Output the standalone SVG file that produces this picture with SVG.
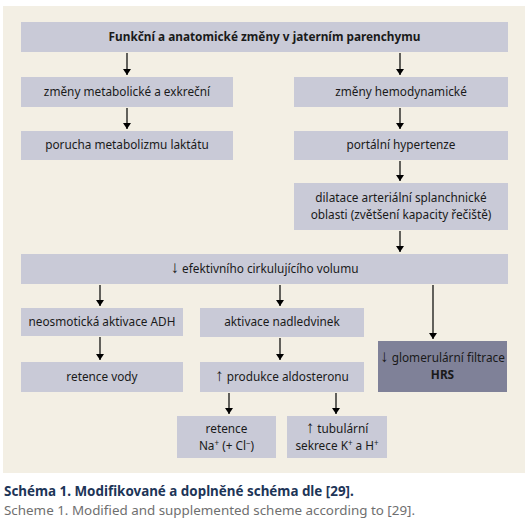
<svg xmlns="http://www.w3.org/2000/svg" width="531" height="528" viewBox="0 0 531 528">
<defs>
<style>
.box{fill:#c9cad7}
.dark{fill:#7f8198}
.t{font-family:"Noto Sans","Open Sans",sans-serif;font-size:11.8px;fill:#1a1a1a;text-anchor:middle}
.b{font-weight:bold}
.ar{font-family:"Liberation Sans",sans-serif;font-size:17px}
.c{stroke:#000;stroke-width:1.2;fill:none;marker-end:url(#ah)}
</style>
<marker id="ah" viewBox="0 0 6 8" refX="6" refY="4" markerWidth="6" markerHeight="8" markerUnits="userSpaceOnUse" orient="auto">
<path d="M0,0 L6,4 L0,8 z" fill="#000"/>
</marker>
</defs>
<rect x="0" y="0" width="531" height="528" fill="#fff"/>
<rect x="3" y="6" width="522" height="467" fill="#f3efe4"/>

<g id="n1"><rect class="box" x="21" y="22" width="487" height="30"/><text class="t b" x="264.5" y="41">Funkční a anatomické změny v jaterním parenchymu</text></g>
<g id="n2"><rect class="box" x="21" y="77" width="212" height="30"/><text class="t" x="127" y="96">změny metabolické a exkreční</text></g>
<g id="n3"><rect class="box" x="294" y="77" width="214" height="30"/><text class="t" x="401" y="96">změny hemodynamické</text></g>
<g id="n4"><rect class="box" x="21" y="131" width="212" height="29"/><text class="t" x="127" y="149">porucha metabolizmu laktátu</text></g>
<g id="n5"><rect class="box" x="294" y="131" width="214" height="29"/><text class="t" x="401" y="149">portální hypertenze</text></g>
<g id="n6"><rect class="box" x="294" y="183" width="214" height="47"/><text class="t" x="401" y="202">dilatace arteriální splanchnické</text><text class="t" x="401" y="219">oblasti (zvětšení kapacity řečiště)</text></g>
<g id="n7"><rect class="box" x="21" y="254" width="487" height="30"/><text class="t" x="264.5" y="273"><tspan class="ar">↓</tspan> efektivního cirkulujícího volumu</text></g>
<g id="n8"><rect class="box" x="21" y="308" width="162" height="28"/><text class="t" x="102" y="326">neosmotická aktivace ADH</text></g>
<g id="n9"><rect class="box" x="200" y="308" width="164" height="29"/><text class="t" x="282" y="326">aktivace nadledvinek</text></g>
<g id="n10"><rect class="dark" x="378" y="341" width="129" height="51"/><text class="t" x="442.5" y="362"><tspan class="ar">↓</tspan> glomerulární filtrace</text><text class="t b" x="442.5" y="379">HRS</text></g>
<g id="n11"><rect class="box" x="21" y="362" width="162" height="30"/><text class="t" x="102" y="381">retence vody</text></g>
<g id="n12"><rect class="box" x="200" y="362" width="164" height="30"/><text class="t" x="282" y="381"><tspan class="ar">↑</tspan> produkce aldosteronu</text></g>
<g id="n13"><rect class="box" x="177" y="416" width="99" height="42"/><text class="t" x="226.5" y="433">retence</text><text class="t" x="226.5" y="450">Na<tspan font-size="8" dy="-4">+</tspan><tspan dy="4"> (+ Cl</tspan><tspan font-size="8" dy="-4">−</tspan><tspan dy="4">)</tspan></text></g>
<g id="n14"><rect class="box" x="287" y="416" width="100" height="42"/><text class="t" x="337" y="433"><tspan class="ar">↑</tspan> tubulární</text><text class="t" x="337" y="450">sekrece K<tspan font-size="8" dy="-4">+</tspan><tspan dy="4"> a H</tspan><tspan font-size="8" dy="-4">+</tspan></text></g>

<g id="connectors">
<line class="c" x1="127" y1="53" x2="127" y2="75"/>
<line class="c" x1="400" y1="53" x2="400" y2="75"/>
<line class="c" x1="127" y1="108" x2="127" y2="129"/>
<line class="c" x1="400" y1="108" x2="400" y2="129"/>
<line class="c" x1="400" y1="161" x2="400" y2="181"/>
<line class="c" x1="400" y1="231" x2="400" y2="252"/>
<line class="c" x1="100" y1="285" x2="100" y2="306"/>
<line class="c" x1="280" y1="285" x2="280" y2="306"/>
<line class="c" x1="433" y1="285" x2="433" y2="339"/>
<line class="c" x1="100" y1="337" x2="100" y2="360"/>
<line class="c" x1="280" y1="338" x2="280" y2="360"/>
<line class="c" x1="229" y1="393" x2="229" y2="414"/>
<line class="c" x1="336" y1="393" x2="336" y2="414"/>
</g>

<text x="4" y="496" font-family="'Noto Sans','Open Sans',sans-serif" font-size="13.4" font-weight="bold" fill="#1d3557">Schéma 1. Modifikované a doplněné schéma dle [29].</text>
<text x="4" y="515" font-family="'Noto Sans','Open Sans',sans-serif" font-size="13.4" fill="#6f6f6f">Scheme 1. Modified and supplemented scheme according to [29].</text>
</svg>
